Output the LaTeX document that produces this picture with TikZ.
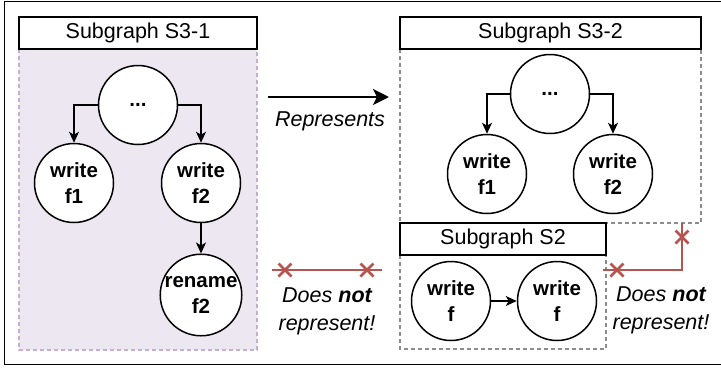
\documentclass[tikz,border=0pt]{standalone}
\usepackage{fontspec}
\setmainfont{Liberation Sans}
\usetikzlibrary{arrows.meta}
\definecolor{redln}{HTML}{B85450}
\definecolor{purpfill}{HTML}{EDE7F1}
\definecolor{purpline}{HTML}{C6AED3}
\definecolor{grayln}{HTML}{8C8C8C}
\tikzset{
  opnode/.style={circle, draw=black, line width=1.5pt, fill=white, minimum size=79pt, inner sep=0pt, align=center,
    font=\bfseries\fontsize{20.5}{25.6}\selectfont},
  header/.style={draw=black, line width=1.5pt, fill=white, minimum height=32pt, inner sep=0pt,
    font=\fontsize{21.5}{26}\selectfont},
  arr/.style={line width=1.5pt, -{Stealth[length=11pt,width=10pt,inset=3pt]}},
  bigarr/.style={line width=2.8pt, -{Stealth[length=16pt,width=16pt,inset=4pt]}},
  redline/.style={draw=redln, line width=2.6pt},
  crossmark/.style={draw=redln, line width=2.6pt},
  lbl/.style={align=center, font=\itshape\fontsize{21.5}{28}\selectfont},
  purpbox/.style={draw=purpline, fill=purpfill, line width=1.2pt, dash pattern=on 4pt off 3pt},
  graybox/.style={draw=grayln, line width=1.2pt, dash pattern=on 4pt off 3pt},
}
\begin{document}
\begin{tikzpicture}[x=1pt,y=-1pt]
\useasboundingbox (0,0) rectangle (721,368);
% outer frame
\draw[line width=1.5pt] (4.5,1.5) rectangle (724,364.5);
% S3-1
\draw[purpbox] (19,49) rectangle (257,350);
\node[header, minimum width=238pt] (h31) at (138,33) {Subgraph S3-1};
\node[opnode] (a1) at (138,105) {...};
\node[opnode] (a2) at (74,183) {write\\f1};
\node[opnode] (a3) at (201,183) {write\\f2};
\node[opnode] (a4) at (201,295) {rename\\f2};
\draw[arr] (a1.west) -| (a2.north);
\draw[arr] (a1.east) -| (a3.north);
\draw[arr] (a3.south) -- (a4.north);
% S3-2
\draw[graybox] (400,49) rectangle (701,223);
\node[header, minimum width=301pt] (h32) at (550.5,33) {Subgraph S3-2};
\node[opnode] (b1) at (550,94) {...};
\node[opnode] (b2) at (487,174) {write\\f1};
\node[opnode] (b3) at (613,174) {write\\f2};
\draw[arr] (b1.west) -| (b2.north);
\draw[arr] (b1.east) -| (b3.north);
% S2
\draw[graybox] (400,255) rectangle (606,349);
\node[header, minimum width=206pt] (h2) at (503,239) {Subgraph S2};
\node[opnode] (c1) at (451,301) {write\\f};
\node[opnode] (c2) at (557,301) {write\\f};
\draw[arr] (c1.east) -- (c2.west);
% Represents
\coordinate (r0) at (268,97);
\coordinate (r1) at (389,97);
\draw[bigarr] (r0) -- (r1);
\node[lbl] (rep) at (330,121) {Represents};
% Does not represent (left)
\coordinate (n0) at (272,270);
\coordinate (n1) at (382,270);
\draw[redline] (n0) -- (n1);
\foreach \cx in {285,367} {
  \draw[crossmark] (\cx-6.5,263.5) -- (\cx+6.5,276.5) (\cx-6.5,276.5) -- (\cx+6.5,263.5);
}
\node[lbl] (dn1) at (327,311) {Does \textbf{not}\\represent!};
% Does not represent (right)
\coordinate (m0) at (603,270);
\coordinate (m1) at (682,270);
\coordinate (m2) at (682,223);
\draw[redline] (m0) -- (m1) -- (m2);
\draw[crossmark] (610.5,263.5) -- (623.5,276.5) (610.5,276.5) -- (623.5,263.5);
\draw[crossmark] (675.5,230.5) -- (688.5,243.5) (675.5,243.5) -- (688.5,230.5);
\node[lbl] (dn2) at (661,310) {Does \textbf{not}\\represent!};
\end{tikzpicture}
\end{document}
